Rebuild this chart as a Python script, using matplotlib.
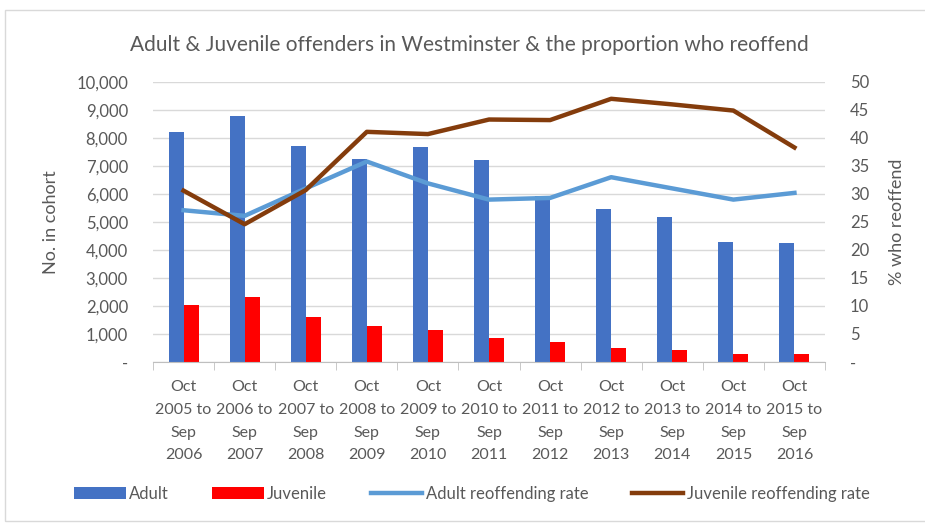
import numpy as np
import matplotlib.pyplot as plt
from matplotlib.patches import Rectangle
from matplotlib.ticker import FuncFormatter, FixedLocator

plt.rcParams['font.family'] = ['Lato', 'DejaVu Sans']

# cohort periods, Oct to Sep
periods = ["Oct\n2005 to\nSep\n2006", "Oct\n2006 to\nSep\n2007", "Oct\n2007 to\nSep\n2008",
           "Oct\n2008 to\nSep\n2009", "Oct\n2009 to\nSep\n2010", "Oct\n2010 to\nSep\n2011",
           "Oct\n2011 to\nSep\n2012", "Oct\n2012 to\nSep\n2013", "Oct\n2013 to\nSep\n2014",
           "Oct\n2014 to\nSep\n2015", "Oct\n2015 to\nSep\n2016"]
adult = [8230, 8800, 7730, 7250, 7690, 7200, 5930, 5460, 5180, 4300, 4250]
juvenile = [2020, 2310, 1600, 1300, 1150, 870, 730, 490, 430, 290, 290]
adult_rate = [27.1, 26.1, 31.0, 35.8, 31.9, 29.0, 29.3, 33.0, 31.0, 29.0, 30.2]
juvenile_rate = [30.6, 24.6, 30.7, 41.1, 40.7, 43.3, 43.2, 47.0, 46.0, 44.9, 38.3]

grey = "#595959"
x = np.arange(len(periods))
w = 0.245

fig = plt.figure(figsize=(9.25, 5.25), dpi=100)
fig.patches.append(Rectangle((5 / 925, 4 / 525), 1.0, 511 / 525, transform=fig.transFigure,
                             fill=False, edgecolor="#d9d9d9", linewidth=1))
ax = fig.add_axes([153 / 925, 1 - 362 / 525, 672 / 925, 280 / 525])
ax2 = ax.twinx()

ax.bar(x - w / 2, adult, w, color="#4472C4", label="Adult", zorder=2)
ax.bar(x + w / 2, juvenile, w, color="#FF0000", label="Juvenile", zorder=2)
ax2.plot(x, adult_rate, color="#5B9BD5", lw=3.2, label="Adult reoffending rate",
         solid_joinstyle="round")
ax2.plot(x, juvenile_rate, color="#843C0C", lw=3.2, label="Juvenile reoffending rate",
         solid_joinstyle="round")

ax.set_xlim(-0.5, len(periods) - 0.5)
ax.set_ylim(0, 10000)
ax2.set_ylim(0, 50)
ax.set_yticks(np.arange(0, 10001, 1000))
ax2.set_yticks(np.arange(0, 51, 5))
ax.yaxis.set_major_formatter(FuncFormatter(lambda v, p: "-" if v == 0 else f"{int(v):,}"))
ax2.yaxis.set_major_formatter(FuncFormatter(lambda v, p: "-" if v == 0 else f"{int(v)}"))
ax.grid(axis="y", color="#d9d9d9", lw=1, zorder=0)

ax.set_xticks(x)
ax.set_xticklabels(periods, fontsize=11.5, color=grey, linespacing=1.8)
ax.xaxis.set_minor_locator(FixedLocator(np.arange(-0.5, len(periods), 1)))
ax.tick_params(axis="x", which="major", length=0, pad=13)
ax.tick_params(axis="x", which="minor", length=6, color="#bfbfbf")
ax.tick_params(axis="y", length=0, labelsize=12, labelcolor=grey, pad=18)
ax2.tick_params(axis="y", length=0, labelsize=12, labelcolor=grey, pad=18)

for a in (ax, ax2):
    for s in ("top", "left", "right"):
        a.spines[s].set_visible(False)
ax.spines["bottom"].set_color("#bfbfbf")
ax2.spines["bottom"].set_visible(False)

ax.set_ylabel("No. in cohort", fontsize=13, color=grey, labelpad=12)
ax2.set_ylabel("% who reoffend", fontsize=13, color=grey, labelpad=14)
fig.text(0.507, 1 - 45 / 525, "Adult & Juvenile offenders in Westminster & the proportion who reoffend",
         ha="center", va="center", fontsize=15, color=grey)

h1, l1 = ax.get_legend_handles_labels()
h2, l2 = ax2.get_legend_handles_labels()
fig.legend(h1 + h2, l1 + l2, loc="center", bbox_to_anchor=(0.51, 1 - 494 / 525), ncol=4,
           frameon=False, fontsize=12, labelcolor=grey, handlelength=3.1,
           handletextpad=0.2, columnspacing=2.6)

fig.savefig("out.png", dpi=100)
